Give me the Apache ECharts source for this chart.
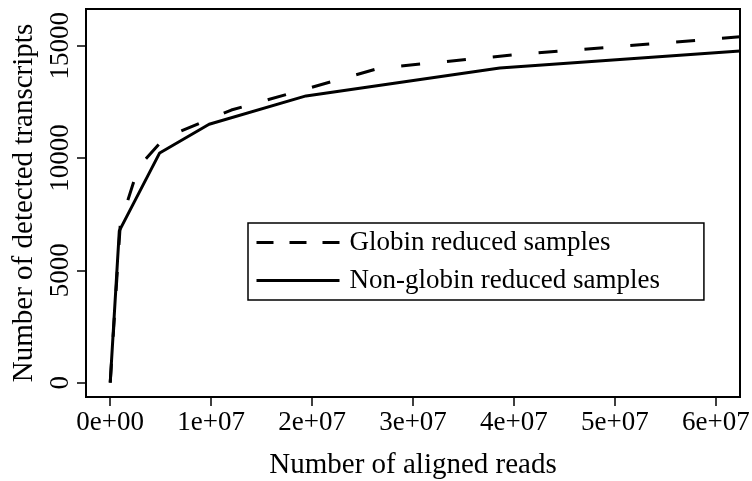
<!DOCTYPE html>
<html>
<head>
<meta charset="utf-8">
<script src="https://cdn.jsdelivr.net/npm/echarts@6/dist/echarts.min.js"></script>
<style>
html,body{margin:0;padding:0;background:#fff;}
#chart{width:752px;height:481px;}
</style>
</head>
<body>
<div id="chart"></div>
<script>
// Data
const seriesNames = ['Globin reduced samples', 'Non-globin reduced samples'];
const globinX = [0, 1.0e6, 2.8e6, 5.4e6, 1.2e7, 2.67e7, 4.0e7, 6.24e7];
const globinY = [0, 7070, 9610, 10900, 12140, 14010, 14600, 15400];
const nonGlobinX = [0, 0.9e6, 4.9e6, 9.8e6, 1.94e7, 3.86e7, 6.24e7];
const nonGlobinY = [0, 6760, 10230, 11510, 12770, 14010, 14770];
const xTicks = [0, 1e7, 2e7, 3e7, 4e7, 5e7, 6e7];
const yTicks = [0, 5000, 10000, 15000];

const FONT = '"Liberation Serif", "DejaVu Serif", serif';

function sci(v) {
  if (v === 0) return '0e+00';
  const e = Math.floor(Math.log10(Math.abs(v)));
  const m = Math.round(v / Math.pow(10, e));
  return m + 'e+' + String(e).padStart(2, '0');
}
function pairs(xs, ys) { return xs.map((x, i) => [x, ys[i]]); }

const chart = echarts.init(document.getElementById('chart'), null, {renderer: 'canvas'});
chart.setOption({
  animation: false,
  backgroundColor: '#fff',
  grid: {left: 86, right: 12, top: 9, bottom: 84, show: true, borderColor: '#000', borderWidth: 2,
         backgroundColor: 'transparent', containLabel: false, outerBoundsMode: 'none'},
  xAxis: {
    type: 'value', min: -2.4e6, max: 6.24e7,
    name: 'Number of aligned reads', nameLocation: 'middle', nameGap: 54,
    nameTextStyle: {fontFamily: FONT, fontSize: 29, color: '#000'},
    axisLine: {show: false, onZero: false},
    axisTick: {show: true, inside: false, customValues: xTicks, length: 9, lineStyle: {color: '#000', width: 1.5}},
    axisLabel: {customValues: xTicks, formatter: sci, fontFamily: FONT, fontSize: 27, color: '#000', margin: 12},
    splitLine: {show: false}
  },
  yAxis: {
    type: 'value', min: -640, max: 16640,
    name: 'Number of detected transcripts', nameLocation: 'middle', nameGap: 45, nameRotate: 90,
    nameTextStyle: {fontFamily: FONT, fontSize: 29, color: '#000'},
    axisLine: {show: false, onZero: false},
    axisTick: {show: true, inside: false, customValues: yTicks, length: 9, lineStyle: {color: '#000', width: 1.5}},
    axisLabel: {customValues: yTicks, formatter: v => String(v), rotate: 90, fontFamily: FONT, fontSize: 27, color: '#000', margin: 12},
    splitLine: {show: false}
  },
  legend: {
    orient: 'vertical', left: 248, top: 223,
    padding: [6, 44, 6, 7],
    itemWidth: 83, itemHeight: 20, itemGap: 11,
    borderColor: '#000', borderWidth: 1.5, backgroundColor: '#fff',
    textStyle: {fontFamily: FONT, fontSize: 27, color: '#000', padding: [0, 0, 0, 5]},
    itemStyle: {opacity: 0},
    data: [
      {name: seriesNames[0], itemStyle: {opacity: 0}, lineStyle: {type: [17, 16], width: 3, color: '#000', opacity: 1}},
      {name: seriesNames[1], itemStyle: {opacity: 0}, lineStyle: {type: 'solid', width: 3, color: '#000', opacity: 1}}
    ]
  },
  series: [
    {
      name: seriesNames[0], type: 'line', data: pairs(globinX, globinY),
      showSymbol: false, symbol: 'none', clip: true,
      lineStyle: {color: '#000', width: 3, type: [19, 27]},
      itemStyle: {color: '#000'}
    },
    {
      name: seriesNames[1], type: 'line', data: pairs(nonGlobinX, nonGlobinY),
      showSymbol: false, symbol: 'none', clip: true,
      lineStyle: {color: '#000', width: 3, type: 'solid'},
      itemStyle: {color: '#000'}
    }
  ]
});
</script>
</body>
</html>
